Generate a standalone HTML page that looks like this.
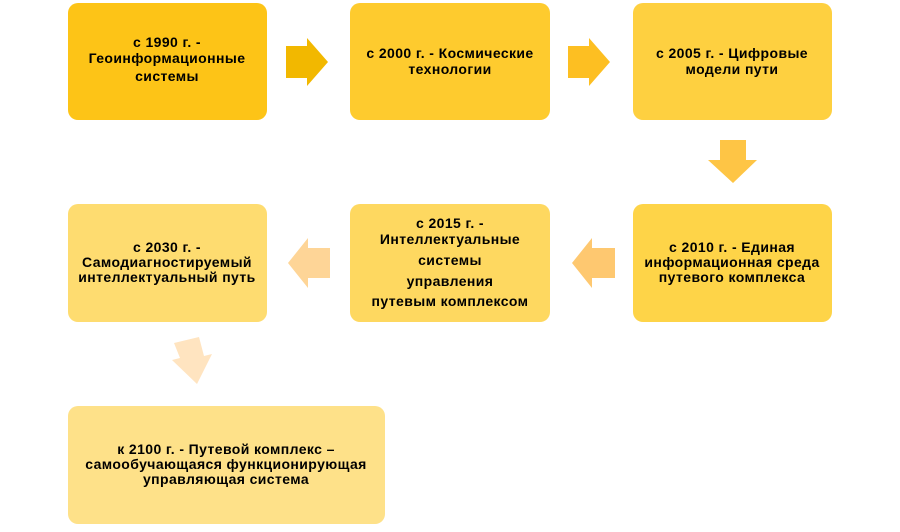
<!DOCTYPE html>
<html><head><meta charset="utf-8"><style>
body{margin:0;background:#fff;width:900px;height:527px;overflow:hidden}
svg text{font-family:"Liberation Sans",sans-serif;font-weight:bold;font-size:14px;letter-spacing:0.4px;fill:#000;text-anchor:middle}
</style></head><body>
<svg width="900" height="527" xmlns="http://www.w3.org/2000/svg">
<rect x="68" y="3" width="199" height="117" rx="10" fill="#FDC417"/>
<rect x="350" y="3" width="200" height="117" rx="10" fill="#FECB2E"/>
<rect x="633" y="3" width="199" height="117" rx="10" fill="#FED040"/>
<rect x="633" y="204" width="199" height="118" rx="10" fill="#FED448"/>
<rect x="350" y="204" width="200" height="118" rx="10" fill="#FED860"/>
<rect x="68" y="204" width="199" height="118" rx="10" fill="#FEDC70"/>
<rect x="68" y="406" width="317" height="118" rx="10" fill="#FEE189"/>

<polygon points="286,46 307,46 307,38 328,62 307,86 307,78 286,78" fill="#F2B800"/>
<polygon points="568,46 589,46 589,38 610,62 589,86 589,78 568,78" fill="#FDBF22"/>
<polygon points="720,140 746,140 746,160 757,160 733,183 708,160 720,160" fill="#FEC545"/>
<polygon points="615,248 592,248 592,238 572,263 592,288 592,278 615,278" fill="#FEC870"/>
<polygon points="330,248 308,248 308,238 288,263 308,288 308,278 330,278" fill="#FED597"/>
<polygon points="174,343 199,337 204,356 212,354 197,384 172,360 180,358" fill="#FFE4C0"/>

<text x="167" y="47">с 1990 г. -</text>
<text x="167" y="63">Геоинформационные</text>
<text x="167" y="81">системы</text>
<text x="450" y="58">с 2000 г. - Космические</text>
<text x="450" y="74">технологии</text>
<text x="732" y="58">с 2005 г. - Цифровые</text>
<text x="732" y="74">модели пути</text>
<text x="732" y="252">с 2010 г. - Единая</text>
<text x="732" y="267">информационная среда</text>
<text x="732" y="282">путевого комплекса</text>
<text x="450" y="228">с 2015 г. -</text>
<text x="450" y="244">Интеллектуальные</text>
<text x="450" y="265">системы</text>
<text x="450" y="286">управления</text>
<text x="450" y="306">путевым комплексом</text>
<text x="167" y="252">с 2030 г.  -</text>
<text x="167" y="267">Самодиагностируемый</text>
<text x="167" y="282">интеллектуальный путь</text>
<text x="226" y="454">к 2100 г. - Путевой комплекс –</text>
<text x="226" y="469">самообучающаяся функционирующая</text>
<text x="226" y="484">управляющая система</text>
</svg>
</body></html>
